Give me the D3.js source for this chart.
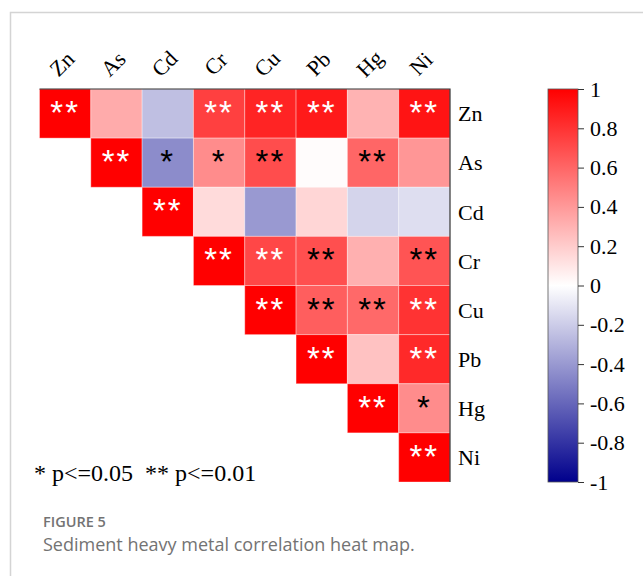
<!DOCTYPE html>
<html>
<head>
<meta charset="utf-8">
<script src="https://cdn.jsdelivr.net/npm/d3@7"></script>
<style>
  body { margin: 0; background: #fff; }
</style>
</head>
<body>
<div id="chart-area"></div>
<script>
// metals, in plot order
const metals = ["Zn", "As", "Cd", "Cr", "Cu", "Pb", "Hg", "Ni"];

// upper triangle, one row per metal, starting at the diagonal
const rowZn = [1, 0.33, -0.25, 0.75, 0.86, 0.9, 0.3, 0.92];
const rowAs = [1, -0.45, 0.45, 0.7, 0.01, 0.6, 0.41];
const rowCd = [1, 0.14, -0.4, 0.16, -0.17, -0.13];
const rowCr = [1, 0.72, 0.69, 0.31, 0.67];
const rowCu = [1, 0.63, 0.59, 0.8];
const rowPb = [1, 0.24, 0.84];
const rowHg = [1, 0.45];
const rowNi = [1];

// significance marks, same layout
const sigZn = ["**", "", "", "**", "**", "**", "", "**"];
const sigAs = ["**", "*", "*", "**", "", "**", ""];
const sigCd = ["**", "", "", "", "", ""];
const sigCr = ["**", "**", "**", "", "**"];
const sigCu = ["**", "**", "**", "**"];
const sigPb = ["**", "", "**"];
const sigHg = ["**", "*"];
const sigNi = ["**"];

const colorTicks = [1, 0.8, 0.6, 0.4, 0.2, 0, -0.2, -0.4, -0.6, -0.8, -1];

const rows = [rowZn, rowAs, rowCd, rowCr, rowCu, rowPb, rowHg, rowNi];
const sigs = [sigZn, sigAs, sigCd, sigCr, sigCu, sigPb, sigHg, sigNi];

const cells = [];
rows.forEach(function(r, i) {
    r.forEach(function(v, k) {
        cells.push({ row: metals[i], col: metals[i + k], value: v, sig: sigs[i][k] });
    });
});

const W = 643, H = 576;
const svg = d3.select("#chart-area")
    .append("svg")
    .attr("width", W)
    .attr("height", H);

// page frame
svg.append("path")
    .attr("d", "M10.5," + H + "V12.5H" + W)
    .attr("fill", "none")
    .attr("stroke", "#d4d4d4")
    .attr("stroke-width", 1.5);

const plot = { left: 39.5, right: 450, top: 89, bottom: 482 };

const x = d3.scaleBand()
    .domain(metals)
    .range([plot.left, plot.right]);

const y = d3.scaleBand()
    .domain(metals)
    .range([plot.top, plot.bottom]);

const color = d3.scaleLinear()
    .domain([-1, 0, 1])
    .range(["#00008c", "#ffffff", "#ff0000"]);

// Cells
svg.append("g")
    .selectAll("rect")
    .data(cells)
    .enter()
    .append("rect")
    .attr("x", function(d) { return x(d.col); })
    .attr("y", function(d) { return y(d.row); })
    .attr("width", x.bandwidth())
    .attr("height", y.bandwidth())
    .attr("fill", function(d) { return color(d.value); })
    .attr("stroke", "rgba(255,255,255,0.35)")
    .attr("stroke-width", 1);

// Stars
svg.append("g")
    .selectAll("text")
    .data(cells.filter(function(d) { return d.sig !== ""; }))
    .enter()
    .append("text")
    .attr("x", function(d) { return x(d.col) + x.bandwidth() / 2; })
    .attr("y", function(d) { return y(d.row) + 35; })
    .attr("text-anchor", "middle")
    .attr("font-family", "Liberation Sans, Arial, sans-serif")
    .attr("font-size", "33px")
    .attr("letter-spacing", "2px")
    .attr("fill", function(d) { return Math.abs(d.value) > 0.7 ? "#ffffff" : "#000000"; })
    .text(function(d) { return d.sig; });

// top and right lines
svg.append("path")
    .attr("d", "M" + plot.left + "," + plot.top + "H" + plot.right + "V" + plot.bottom)
    .attr("fill", "none")
    .attr("stroke", "#333")
    .attr("stroke-width", 1.2);

// Column labels
svg.append("g")
    .selectAll("text")
    .data(metals)
    .enter()
    .append("text")
    .attr("transform", function(d) {
        return "translate(" + (x(d) + x.bandwidth() / 2 + 2) + ",69) rotate(-45)";
    })
    .attr("text-anchor", "middle")
    .attr("font-family", "Liberation Serif, Times New Roman, serif")
    .attr("font-size", "22px")
    .text(function(d) { return d; });

// Row labels
svg.append("g")
    .selectAll("text")
    .data(metals)
    .enter()
    .append("text")
    .attr("x", 458)
    .attr("y", function(d) { return y(d) + y.bandwidth() / 2; })
    .attr("dy", "0.35em")
    .attr("font-family", "Liberation Serif, Times New Roman, serif")
    .attr("font-size", "22px")
    .text(function(d) { return d; });

// Colour bar
const cb = { x: 548, w: 30 };
const cy = d3.scaleLinear()
    .domain([-1, 1])
    .range([plot.bottom, plot.top]);

const grad = svg.append("defs").append("linearGradient")
    .attr("id", "cbar")
    .attr("x1", 0).attr("y1", 1)
    .attr("x2", 0).attr("y2", 0);
grad.selectAll("stop")
    .data([-1, 0, 1])
    .enter()
    .append("stop")
    .attr("offset", function(d) { return ((d + 1) / 2 * 100) + "%"; })
    .attr("stop-color", function(d) { return color(d); });

svg.append("rect")
    .attr("x", cb.x)
    .attr("y", plot.top)
    .attr("width", cb.w)
    .attr("height", plot.bottom - plot.top)
    .attr("fill", "url(#cbar)")
    .attr("stroke", "#555")
    .attr("stroke-width", 0.8);

const cAxis = svg.append("g")
    .attr("transform", "translate(" + (cb.x + cb.w) + ",0)")
    .call(d3.axisRight(cy)
        .tickValues(colorTicks)
        .tickSize(6)
        .tickPadding(6)
        .tickFormat(function(d) { return String(d); }));
cAxis.select(".domain").remove();
cAxis.selectAll("line").attr("stroke", "#333");
cAxis.selectAll("text")
    .attr("font-family", "Liberation Serif, Times New Roman, serif")
    .attr("font-size", "22px")
    .attr("fill", "#000");

// significance legend
svg.append("text")
    .attr("x", 34)
    .attr("y", 481)
    .attr("font-family", "Liberation Serif, Times New Roman, serif")
    .attr("font-size", "24px")
    .style("white-space", "pre")
    .text("* p<=0.05  ** p<=0.01");

// Caption
svg.append("text")
    .attr("x", 43)
    .attr("y", 527)
    .attr("font-family", "Open Sans, sans-serif")
    .attr("font-size", "14.5px")
    .attr("font-weight", "600")
    .attr("fill", "#737373")
    .text("FIGURE 5");

svg.append("text")
    .attr("x", 43)
    .attr("y", 551)
    .attr("font-family", "Open Sans, sans-serif")
    .attr("font-size", "18px")
    .attr("fill", "#737373")
    .text("Sediment heavy metal correlation heat map.");
</script>
</body>
</html>
